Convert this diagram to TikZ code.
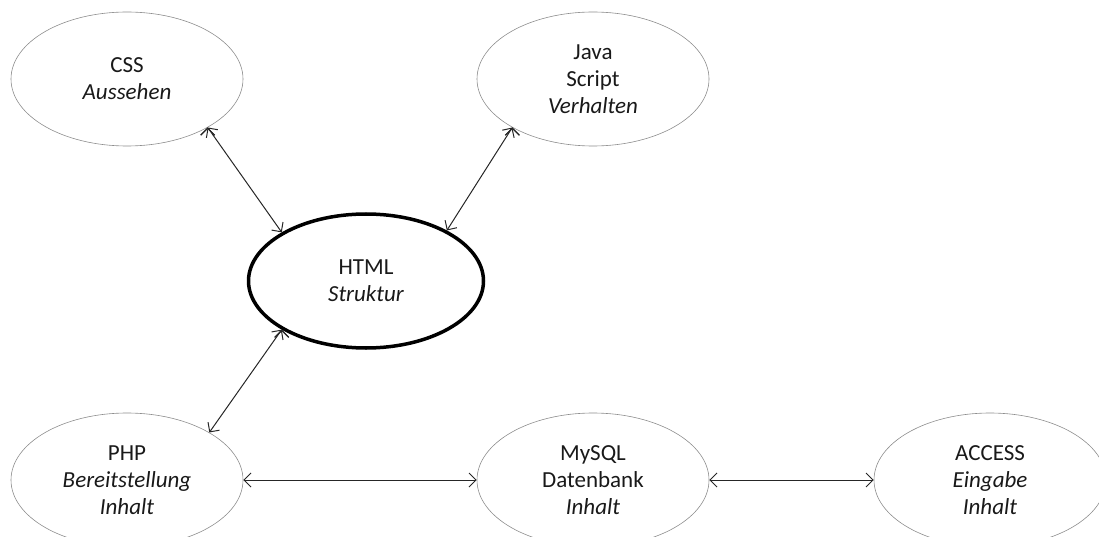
\documentclass[tikz,border=0pt]{standalone}
\usepackage{fontspec}
\setmainfont{Carlito}
\usetikzlibrary{shapes.geometric,arrows.meta}
\tikzset{
  blob/.style={ellipse, draw=black!45, line width=0.6pt, minimum width=232pt, minimum height=134pt, align=center, font=\fontsize{23}{27}\selectfont, text=black!90},
  link/.style={{Straight Barb[length=7pt,width=14pt]}-{Straight Barb[length=7pt,width=14pt]}, line width=1pt, black!85}
}
\begin{document}
\begin{tikzpicture}[x=1pt, y=-1pt]
    \useasboundingbox (0,0) rectangle (1099,537);
    \clip (0,0) rectangle (1099,537);

    \node[blob] (css) at (127,79) {CSS\\\textit{Aussehen}};
    \node[blob] (js) at (593,79) {Java\\Script\\\textit{Verhalten}};
    \node[blob, draw=black, line width=3.5pt, minimum width=235pt] (html) at (366,281) {HTML\\\textit{Struktur}};
    \node[blob] (php) at (127,480) {PHP\\\textit{Bereitstellung}\\\textit{Inhalt}};
    \node[blob] (sql) at (593,480) {MySQL\\Datenbank\\\textit{Inhalt}};
    \node[blob] (acc) at (990,480) {ACCESS\\\textit{Eingabe}\\\textit{Inhalt}};

    \draw[link] (css.-31) edge (html.150);
    \draw[link] (js.211) edge (html.32);
    \draw[link] (html.210) edge (php.30);
    \draw[link] (php) edge (sql);
    \draw[link] (sql) edge (acc);
\end{tikzpicture}
\end{document}
